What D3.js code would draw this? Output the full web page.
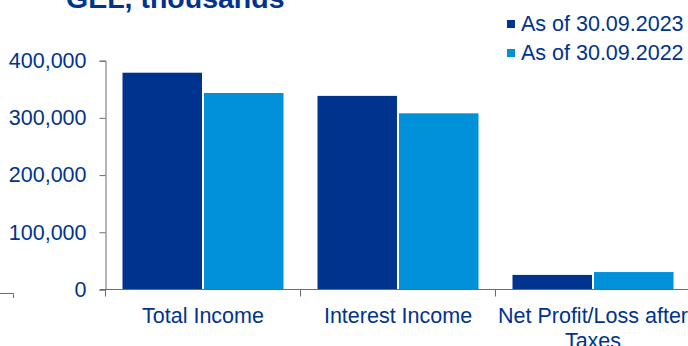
<!DOCTYPE html>
<html>
<head>
<meta charset="utf-8">
<script src="https://cdn.jsdelivr.net/npm/d3@7"></script>
<style>
  html, body { margin: 0; padding: 0; background: #fff; }
  svg { display: block; font-family: "Liberation Sans", Arial, sans-serif; }
</style>
</head>
<body>
<svg id="chart" width="688" height="346"></svg>
<script>
// Income figures, GEL thousands
const categories = ["Total Income", "Interest Income", "Net Profit/Loss after Taxes"];
const categoryLines = [["Total Income"], ["Interest Income"], ["Net Profit/Loss after", "Taxes"]];
const seriesNames = ["As of 30.09.2023", "As of 30.09.2022"];
const values2023 = [379000, 338500, 25500];
const values2022 = [343500, 308000, 30500];
const yTicks = [0, 100000, 200000, 300000, 400000];
const seriesColors = ["#00338D", "#0091DA"];

const textColor = "#00338D";
const axisColor = "#6b6b6b";
const fontSize = 21.5;
const svg = d3.select("#chart");

const x0 = d3.scaleBand().domain(categories).range([105.5, 690.5]).padding(0);
const x1 = d3.scaleBand().domain(seriesNames).range([17, 178]).padding(0);
const y = d3.scaleLinear().domain([0, 400000]).range([289.5, 60.7]);

// Title
svg.append("text")
  .attr("x", 66).attr("y", 8)
  .attr("font-size", 28.5).attr("font-weight", "bold")
  .attr("fill", textColor)
  .text("GEL, thousands");

// Bars
const rows = categories.map((c, i) => ({ cat: c, vals: [values2023[i], values2022[i]] }));
const groups = svg.append("g").selectAll("g").data(rows).join("g")
  .attr("transform", d => `translate(${x0(d.cat)},0)`);
groups.selectAll("rect")
  .data(d => d.vals.map((v, j) => ({ name: seriesNames[j], v, j })))
  .join("rect")
  .attr("x", d => x1(d.name) + (d.j === 1 ? 1 : 0))
  .attr("width", x1.bandwidth() - 1)
  .attr("y", d => y(d.v))
  .attr("height", d => y(0) - y(d.v))
  .attr("fill", d => seriesColors[d.j]);

// Y axis
const yAxis = svg.append("g")
  .attr("transform", "translate(105.5,0)")
  .call(d3.axisLeft(y).tickValues(yTicks).tickSize(6).tickPadding(13).tickFormat(d3.format(",")));
yAxis.select(".domain").attr("stroke", axisColor);
yAxis.selectAll(".tick line").attr("stroke", axisColor);
yAxis.selectAll(".tick text")
  .attr("fill", textColor)
  .attr("font-size", fontSize)
  .attr("font-family", "'Liberation Sans', Arial, sans-serif");

// X axis line and category boundary ticks
svg.append("line")
  .attr("x1", 100).attr("x2", 688)
  .attr("y1", y(0)).attr("y2", y(0))
  .attr("stroke", axisColor);
svg.append("g").selectAll("line").data(categories).join("line")
  .attr("x1", d => x0(d)).attr("x2", d => x0(d))
  .attr("y1", y(0)).attr("y2", y(0) + 7)
  .attr("stroke", axisColor);

// Category labels
svg.append("g").selectAll("text").data(categories).join("text")
  .attr("x", d => x0(d) + x0.bandwidth() / 2)
  .attr("y", 323)
  .attr("text-anchor", "middle")
  .attr("font-size", fontSize)
  .attr("fill", textColor)
  .selectAll("tspan")
  .data((d, i) => categoryLines[i])
  .join("tspan")
  .attr("x", function () { return this.parentNode.getAttribute("x"); })
  .attr("dy", (d, k) => k === 0 ? 0 : 25)
  .text(d => d);

// Small bracket at the lower left edge
svg.append("path")
  .attr("d", "M0,293.5H13.5V298")
  .attr("fill", "none")
  .attr("stroke", axisColor);

// Legend
const legend = svg.append("g").selectAll("g").data(seriesNames).join("g")
  .attr("transform", (d, i) => `translate(507,${20 + i * 29})`);
legend.append("rect")
  .attr("width", 8).attr("height", 8)
  .attr("fill", (d, i) => seriesColors[i]);
legend.append("text")
  .attr("x", 14).attr("y", 10.5)
  .attr("font-size", fontSize)
  .attr("fill", textColor)
  .text(d => d);
</script>
</body>
</html>
